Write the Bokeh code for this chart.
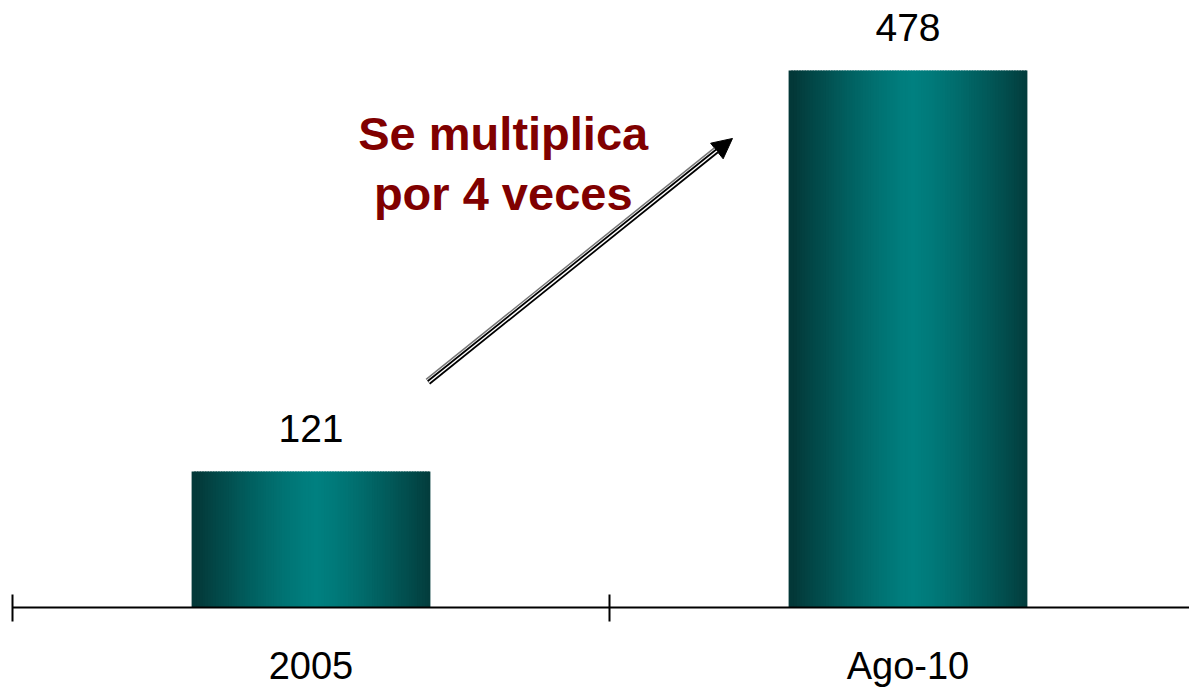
import numpy as np
from bokeh.plotting import figure
from bokeh.models import Range1d, FixedTicker, Arrow, NormalHead
from bokeh.core.properties import value
from bokeh.embed import file_html
from bokeh.resources import INLINE

# ---- data ----
categories = ["2005", "Ago-10"]
values = [121, 478]
note_lines = ["Se multiplica", "por 4 veces"]

# ---- layout constants ----
FW = 1189                 # frame width
FH = 607                  # frame height
PX_PER_X = 597.0          # pixels per category slot
PX_PER_Y = 1.1234         # pixels per unit value
X0_PX = 12                # pixel position of x=0
x_start = -X0_PX / PX_PER_X
x_end = (FW - X0_PX) / PX_PER_X
y_end = FH / PX_PER_Y

FONT = "Liberation Sans"

p = figure(frame_width=FW, frame_height=FH, x_range=Range1d(x_start, x_end), y_range=Range1d(0, y_end),
           output_backend="svg", toolbar_location=None, y_axis_location=None,
           min_border_left=0, min_border_right=0, min_border_top=0, min_border_bottom=0)
p.xgrid.visible = False
p.ygrid.visible = False
p.outline_line_color = None
p.background_fill_color = "white"

# ---- gradient bars (vertical slices) ----
bar_width = 0.4
N = 90
t = (np.arange(N) + 0.5) / N
s = np.clip(np.abs(t - 0.52) / 0.5, 0, 1) ** 1.3
edge = np.array([3, 56, 56])
center = np.array([0, 128, 128])
cols = [("#%02x%02x%02x" % tuple(int(round(c)) for c in (center + (edge - center) * si))) for si in s]

centers = [i + 0.5 for i in range(len(categories))]
L, R, T, B, C = [], [], [], [], []
for xc, v in zip(centers, values):
    step = bar_width / N
    for k in range(N):
        left = xc - bar_width / 2 + k * step
        right = left + step * (1.6 if k < N - 1 else 1.0)
        L.append(left); R.append(right); T.append(v); B.append(0); C.append(cols[k])
p.quad(left=L, right=R, top=T, bottom=B, fill_color=C, line_color=None)

# ---- value labels ----
p.text(x=centers, y=values, text=[str(v) for v in values], y_offset=-43,
       text_align="center", text_baseline="middle",
       text_font=value(FONT), text_font_size="39px", text_color="black")

# ---- annotation text ----
note_x = 0.822
note_y = [421.9, 368.5]
p.text(x=[note_x] * 2, y=note_y, text=note_lines, text_align="center", text_baseline="middle",
       text_font=value(FONT), text_font_size="47px", text_font_style="bold", text_color="#800000")

# ---- arrow ----
ax0, ay0 = 0.697, 200.3
ax1, ay1 = 1.206, 417.5
dxp = (ax1 - ax0) * PX_PER_X
dyp = (ay1 - ay0) * PX_PER_Y
ln = (dxp ** 2 + dyp ** 2) ** 0.5
ux, uy = dxp / ln, dyp / ln          # unit vector (pixel space, y up)
nx, ny = -uy, ux                     # normal toward upper-left
stop = 20
bx1 = ax1 - ux * stop / PX_PER_X
by1 = ay1 - uy * stop / PX_PER_Y
p.add_layout(Arrow(end=NormalHead(size=20, fill_color="black", line_color="black"),
                   x_start=ax0, y_start=ay0, x_end=ax1, y_end=ay1,
                   line_color="black", line_width=5))
r1 = p.segment(x0=[ax0], y0=[ay0], x1=[bx1], y1=[by1], line_color="white", line_width=1.5)
off = 4.0
r2 = p.segment(x0=[ax0 + nx * off / PX_PER_X], y0=[ay0 + ny * off / PX_PER_Y],
               x1=[bx1 + nx * off / PX_PER_X], y1=[by1 + ny * off / PX_PER_Y],
               line_color="#777777", line_width=1.5)
r1.level = "overlay"
r2.level = "overlay"

# ---- x axis ----
ax = p.xaxis[0]
ax.ticker = FixedTicker(ticks=centers, minor_ticks=[0, 1, 2])
ax.major_label_overrides = {c: lab for c, lab in zip(centers, categories)}
ax.bounds = (0, 2)
ax.axis_line_color = "black"
ax.axis_line_width = 2
ax.major_tick_in = 0
ax.major_tick_out = 0
ax.minor_tick_in = 13
ax.minor_tick_out = 14
ax.minor_tick_line_color = "black"
ax.minor_tick_line_width = 2
ax.major_label_standoff = 23
ax.major_label_text_font = FONT
ax.major_label_text_font_size = "38px"
ax.major_label_text_color = "black"

open("out.html", "w").write(file_html(p, INLINE))
